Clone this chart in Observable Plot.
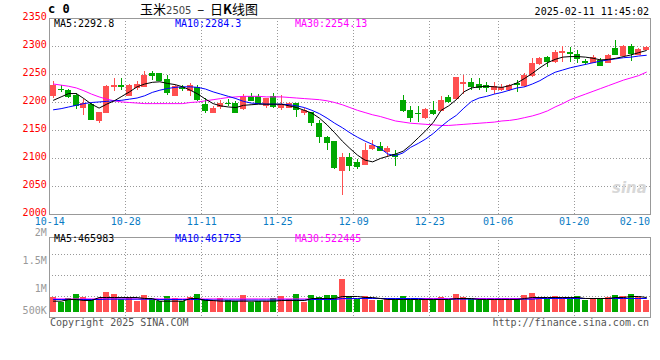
<!DOCTYPE html>
<html><head><meta charset="utf-8">
<script src="https://cdn.jsdelivr.net/npm/d3@7"></script>
<script src="https://cdn.jsdelivr.net/npm/@observablehq/plot@0.6"></script>
<style>
body{margin:0;background:#fff;}
#wrap{position:relative;width:660px;height:360px;overflow:hidden;background:#fff;font-family:"DejaVu Sans Mono",monospace;font-size:10px;}
#wrap svg{position:absolute;left:0;}
.t{position:absolute;white-space:nowrap;line-height:12px;z-index:2;}
</style></head><body><div id="wrap">
<div class="t" style="left:48px;top:3px;font-weight:bold;font-size:12px;">c 0</div>
<div class="t" style="left:140px;top:1px;font-family:'Noto Sans CJK SC';font-size:13px;line-height:15px;">玉米<span style="font-family:'DejaVu Sans';font-size:10px;color:#444;">2505</span>&nbsp;&nbsp;–&nbsp;&nbsp;日<b>K</b>线图</div>
<div class="t" style="right:11px;top:6px;">2025-02-11 11:45:02</div>
<div class="t" style="left:54px;top:18px;color:#000;">MA5:2292.8</div>
<div class="t" style="left:175px;top:18px;color:#00f;">MA10:2284.3</div>
<div class="t" style="left:295px;top:18px;color:#f0f;">MA30:2254.13</div>
<div class="t" style="left:54px;top:233px;color:#000;">MA5:465983</div>
<div class="t" style="left:175px;top:233px;color:#00f;">MA10:461753</div>
<div class="t" style="left:295px;top:233px;color:#f0f;">MA30:522445</div>
<div class="t" style="left:50px;top:317px;color:#555;">Copyright 2025 SINA.COM</div>
<div class="t" style="right:11px;top:317px;color:#555;">http://finance.sina.com.cn</div>
<div class="t" style="left:612px;top:182px;color:#d8d8d8;font-family:'DejaVu Sans';font-style:italic;font-weight:bold;font-size:15px;">sina</div>
</div>
<script>
const dates = ["10-14","10-15","10-16","10-17","10-18","10-21","10-22","10-23","10-24","10-25",
"10-28","10-29","10-30","10-31","11-01","11-04","11-05","11-06","11-07","11-08",
"11-11","11-12","11-13","11-14","11-15","11-18","11-19","11-20","11-21","11-22",
"11-25","11-26","11-27","11-28","11-29","12-02","12-03","12-04","12-05","12-06",
"12-09","12-10","12-11","12-12","12-13","12-16","12-17","12-18","12-19","12-20",
"12-23","12-24","12-25","12-26","12-27","12-30","12-31","01-02","01-03",
"01-06","01-07","01-08","01-09","01-10","01-13","01-14","01-15","01-16","01-17",
"01-20","01-21","01-22","01-23","01-24","02-05","02-06","02-07","02-10","02-11"];
const open = [2212,2224,2222,2213,2191,2197,2168,2182,2228,2230,
2213,2226,2228,2252,2251,2241,2213,2226,2222,2226,
2197,2182,2192,2199,2199,2190,2211,2211,2195,2210,
2191,2191,2198,2183,2182,2163,2137,2130,2079,2102,
2092,2090,2118,2121,2112,2108,2204,2185,2181,2173,
2186,2186,2209,2207,2234,2235,2232,2230,2223,2223,
2224,2234,2230,2248,2270,2281,2274,2290,2289,2286,
2273,2272,2275,2271,2296,2284,2300,2286,2295];
const high = [2238,2231,2223,2216,2205,2199,2183,2231,2242,2242,
2233,2238,2255,2256,2252,2249,2230,2231,2234,2231,
2207,2193,2203,2205,2201,2215,2216,2214,2207,2216,
2213,2200,2199,2189,2183,2168,2139,2130,2109,2109,
2098,2126,2133,2128,2121,2115,2213,2192,2193,2189,
2201,2210,2212,2245,2248,2242,2242,2236,2236,2232,
2233,2239,2252,2278,2281,2282,2293,2300,2299,2292,
2276,2284,2278,2286,2311,2302,2304,2296,2300];
const low = [2208,2218,2207,2188,2176,2167,2162,2181,2219,2221,
2210,2222,2227,2240,2238,2213,2210,2219,2211,2201,
2180,2180,2188,2192,2180,2186,2203,2196,2189,2189,
2185,2189,2173,2176,2158,2127,2114,2080,2034,2076,
2080,2089,2114,2112,2102,2085,2183,2164,2164,2170,
2177,2184,2198,2204,2215,2221,2221,2218,2215,2219,
2220,2217,2227,2245,2266,2262,2270,2272,2272,2269,
2266,2270,2264,2269,2284,2281,2274,2284,2294];
const close = [2230,2223,2210,2194,2199,2170,2182,2229,2231,2229,
2231,2232,2249,2249,2240,2218,2228,2225,2231,2205,
2186,2190,2198,2198,2182,2211,2204,2198,2207,2192,
2197,2198,2187,2185,2164,2139,2128,2084,2102,2088,
2085,2115,2124,2115,2118,2103,2186,2174,2180,2187,
2180,2203,2202,2245,2235,2229,2226,2226,2229,2227,
2230,2233,2249,2269,2279,2274,2290,2291,2288,2278,
2272,2281,2266,2284,2286,2300,2287,2294,2299];
const ma5 = [2204,2210,2216,2216,2207,2197,2190,2197,2203,2211,
2219,2228,2233,2236,2237,2234,2232,2228,2222,2215,
2206,2198,2194,2192,2191,2195,2196,2197,2197,2197,
2197,2194,2191,2186,2181,2172,2160,2146,2131,2118,
2106,2097,2094,2100,2104,2108,2113,2124,2137,2150,
2165,2186,2194,2205,2219,2226,2228,2229,2228,2227,
2230,2235,2243,2252,2262,2271,2277,2281,2282,2282,
2281,2279,2276,2277,2279,2282,2285,2289,2292.8];
const ma10 = [2187,2189,2192,2195,2198,2200,2201,2202,2203,2204,
2206,2208,2212,2218,2222,2225,2227,2228,2228,2227,
2224,2219,2215,2211,2207,2202,2199,2198,2197,2197,
2197,2196,2194,2191,2186,2180,2172,2163,2155,2146,
2138,2131,2125,2118,2108,2105,2110,2120,2127,2135,
2145,2157,2168,2177,2190,2202,2208,2211,2215,2218,
2222,2226,2228,2233,2239,2247,2254,2258,2262,2265,
2268,2271,2274,2276,2278,2280,2281,2283,2284.3];
const ma30 = [2233,2231,2229,2226,2221,2215,2210,2206,2203,2201,
2200,2199,2198,2198,2198,2198,2198,2198,2200,2201,
2203,2205,2207,2209,2210,2211,2211,2211,2210,2210,
2210,2209,2208,2207,2206,2205,2203,2200,2196,2191,
2186,2182,2178,2175,2171,2167,2165,2163,2162,2161,
2160,2159,2159,2160,2161,2162,2163,2164,2165,2167,
2168,2170,2173,2176,2180,2185,2192,2198,2205,2210,
2215,2220,2225,2230,2235,2240,2244,2248,2254.13];
// volume in thousands of lots
const volume = [875,791,857,929,875,839,857,964,929,839,
875,809,911,839,809,893,857,809,875,929,
839,809,857,821,809,911,791,809,809,857,
898,839,929,791,911,875,911,911,1196,875,
839,893,821,821,839,857,893,839,821,857,
839,875,821,929,875,839,821,821,839,821,
839,857,911,946,875,857,893,875,875,893,
821,839,857,875,911,893,929,875,821];
const vma5 = [809,809,839,839,821,821,875,875,875,875,
875,875,857,857,809,809,809,809,857,857,
821,821,809,809,809,809,809,809,809,809,
821,821,821,821,857,857,857,857,893,893,
893,875,875,857,839,839,839,839,839,839,
839,839,839,857,857,857,839,839,839,839,
839,839,857,875,875,875,875,875,875,875,
857,857,857,857,875,875,893,893,875];
const vma10 = [839,839,839,839,839,839,839,845,845,845,
845,845,845,845,839,839,839,839,839,839,
839,830,830,830,830,830,830,830,830,830,
830,830,830,830,839,839,839,839,857,857,
857,857,857,857,857,857,857,857,857,845,
845,845,845,845,845,845,845,845,845,845,
845,845,845,845,857,857,857,857,857,857,
857,857,857,857,857,857,857,857,857];
const vma30 = [850,850,850,850,850,850,850,850,850,850,
850,850,850,850,850,850,850,850,850,850,
850,850,850,850,850,850,850,850,850,850,
850,850,850,850,850,850,850,850,850,850,
857,857,857,857,857,857,857,857,857,857,
857,857,857,857,857,857,857,857,857,857,
857,857,857,857,857,857,857,857,857,857,
857,857,857,857,857,857,857,857,857];
const priceTicks = [2000,2050,2100,2150,2200,2250,2300,2350];
const priceGrid = [2050,2100,2150,2200,2250,2300];
const dateLabels = ["10-14","10-28","11-11","11-25","12-09","12-23","01-06","01-20","02-10"];
const gridDates = ["10-28","11-11","11-25","12-09","12-23","01-06","01-20"];
const volLabels = [{v:2000,t:"2M"},{v:1500,t:"1.5M"},{v:1000,t:"1M"}];
const volLow = [{v:500,t:"500K"}];
const volGrid = [1634,1268,893];
const volFloor = 607;

const RED = "#ff5050", GREEN = "#00a800";
const candles = dates.map((d,i)=>({date:d, open:open[i], high:high[i], low:low[i], close:close[i], vol:volume[i]}));
const col = d => d.close >= d.open ? RED : GREEN;
const pairs = arr => dates.map((d,i)=>[d, arr[i]]);
const xScale = {type:"band", domain:dates, paddingInner:0.2, paddingOuter:0.1, axis:null};
const half = -3.8;
const crisp = {shapeRendering:"crispEdges"};

const main = Plot.plot({
  width:660, height:228, marginLeft:49.2, marginRight:10.4, marginTop:18, marginBottom:14,
  style:{fontFamily:"DejaVu Sans Mono", fontSize:"10px", background:"#fff", overflow:"visible"},
  x: xScale,
  y: {domain:[2000,2350], axis:null},
  marks:[
    Plot.ruleY(priceGrid, {stroke:"#999", strokeDasharray:"1,2", ...crisp}),
    Plot.ruleX(gridDates, {x:d=>d, dx:half, stroke:"#999", strokeDasharray:"1,2", ...crisp}),
    Plot.ruleX(candles, {x:"date", y1:"low", y2:"high", stroke:col, ...crisp}),
    Plot.barY(candles, {x:"date", y1:"open", y2:"close", fill:col, ...crisp}),
    Plot.tickY(candles, {x:"date", y:"open", stroke:col, ...crisp}),
    Plot.tickY(candles, {x:"date", y:"close", stroke:col, ...crisp}),
    Plot.line(pairs(ma30), {stroke:"#f0f", strokeWidth:1}),
    Plot.line(pairs(ma10), {stroke:"#00f", strokeWidth:1}),
    Plot.line(pairs(ma5), {stroke:"#000", strokeWidth:1}),
    Plot.frame({stroke:"#999", ...crisp}),
    Plot.text(priceTicks, {y:d=>d, text:d=>String(d), frameAnchor:"left", textAnchor:"end", dx:-3, dy:-2, fill:"#f00"}),
    Plot.text(dateLabels, {x:d=>d, y:()=>2000, dx:half, dy:7, fill:"#0a7cc4"})
  ]
});
main.style.top = "0px";

const vol = Plot.plot({
  width:660, height:132, marginLeft:49.2, marginRight:10.4, marginTop:9, marginBottom:43,
  style:{fontFamily:"DejaVu Sans Mono", fontSize:"10px", background:"#fff", overflow:"visible"},
  x: xScale,
  y: {domain:[0,2000], range:[118,6], axis:null},
  marks:[
    Plot.ruleY(volGrid, {stroke:"#999", strokeDasharray:"1,2", ...crisp}),
    Plot.ruleX(gridDates, {x:d=>d, dx:half, stroke:"#999", strokeDasharray:"1,2", ...crisp}),
    Plot.barY(candles, {x:"date", y1:()=>volFloor, y2:"vol", fill:col, ...crisp}),
    Plot.line(pairs(vma30), {stroke:"#f0f", strokeWidth:1}),
    Plot.line(pairs(vma10), {stroke:"#00f", strokeWidth:1}),
    Plot.line(pairs(vma5), {stroke:"#000", strokeWidth:1}),
    Plot.frame({stroke:"#999", ...crisp}),
    Plot.text(volLabels, {y:"v", text:"t", frameAnchor:"left", textAnchor:"end", dx:-3, dy:-2, fill:"#999"}),
    Plot.text(volLow, {y:"v", text:"t", frameAnchor:"left", textAnchor:"end", dx:-3, dy:-8, fill:"#999"})
  ]
});
vol.style.top = "228px";

const wrap = document.getElementById("wrap");
wrap.insertBefore(vol, wrap.firstChild);
wrap.insertBefore(main, wrap.firstChild);
</script></body></html>
